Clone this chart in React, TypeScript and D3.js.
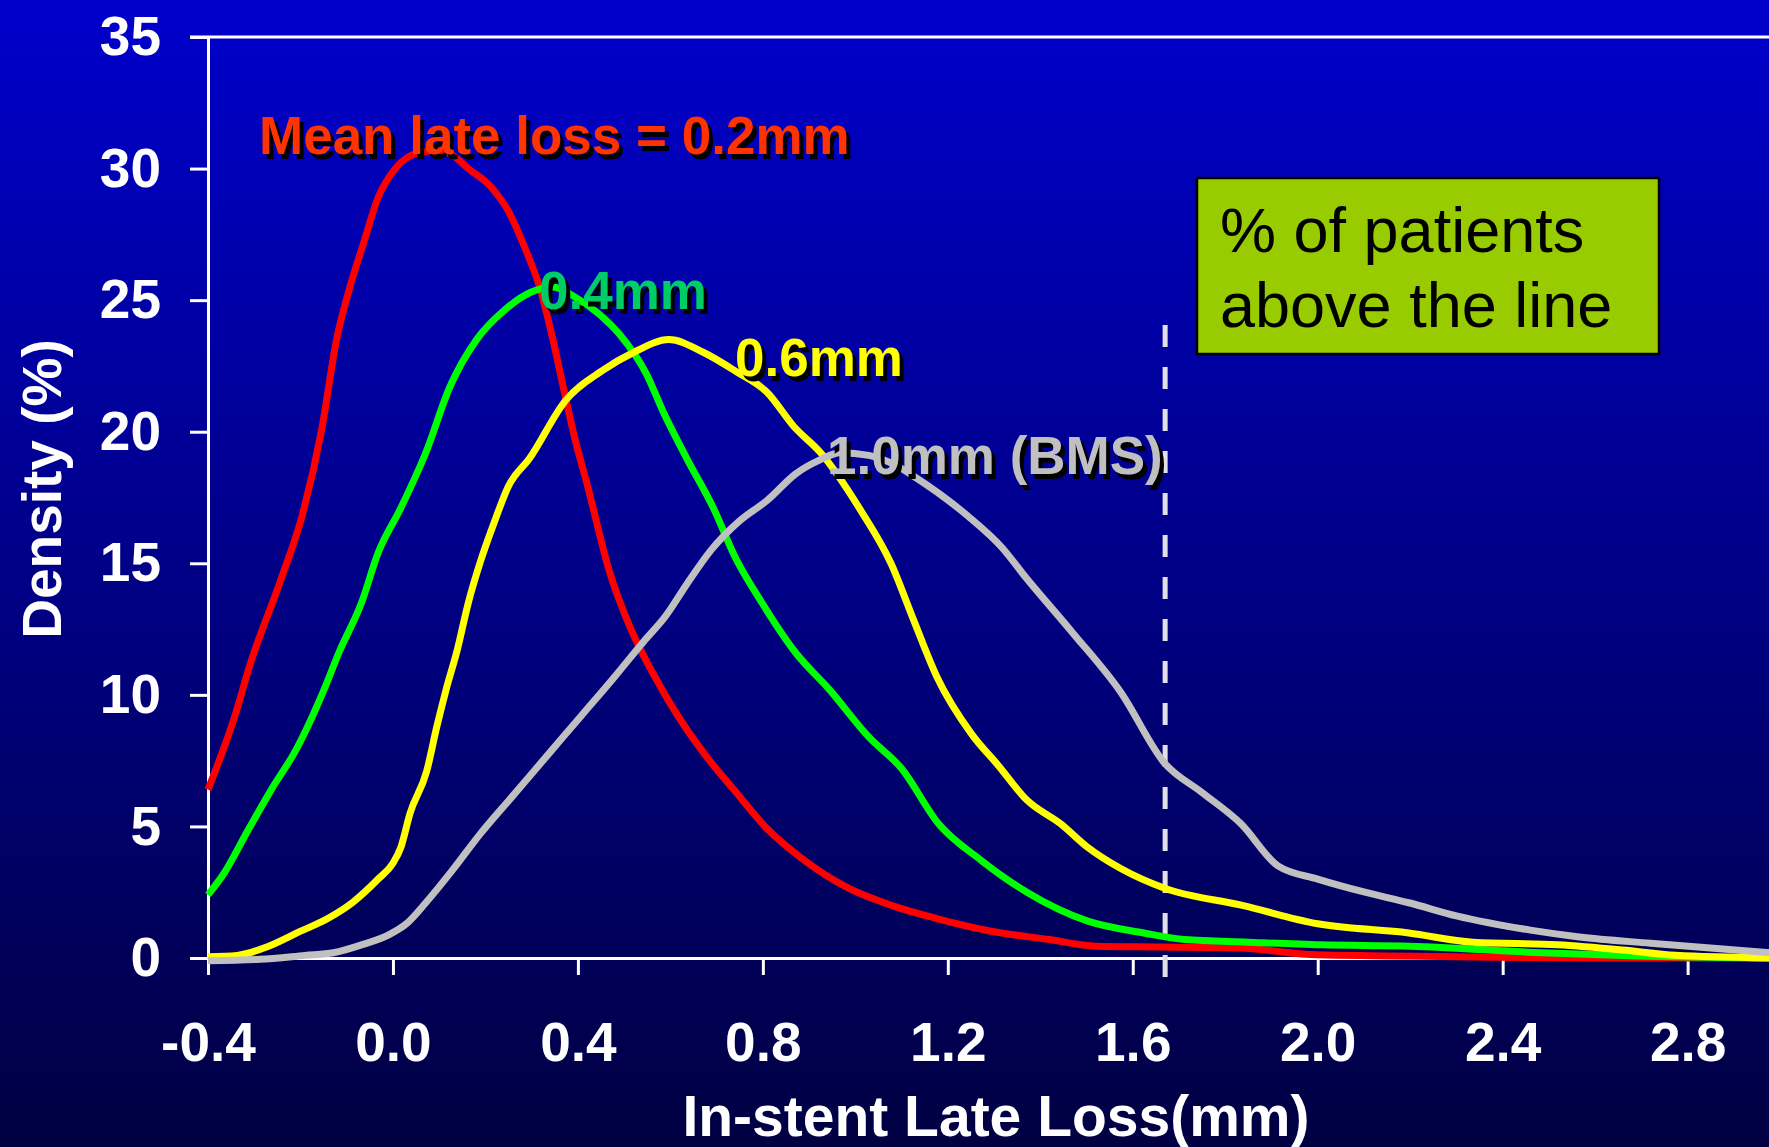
import { useRef, useEffect } from 'react'
import * as d3 from 'd3'

const W = 1769
const H = 1147
const M = { top: 37, right: 0, bottom: 189, left: 208 }

const X_TICKS = [-0.4, 0, 0.4, 0.8, 1.2, 1.6, 2.0, 2.4, 2.8]
const Y_TICKS = [0, 5, 10, 15, 20, 25, 30, 35]
const CUTOFF = 1.67

// [late loss (mm), density (%)]
const red = [
  [-0.4, 6.4], [-0.34, 9.3], [-0.31, 11.1], [-0.244, 14.3], [-0.195, 16.9], [-0.154, 20.1],
  [-0.122, 23.5], [-0.093, 25.5], [-0.063, 27.2], [-0.032, 28.9], [0.005, 30.0], [0.054, 30.6],
  [0.1, 30.7], [0.13, 30.5], [0.163, 30.0], [0.212, 29.3], [0.249, 28.4], [0.285, 27.0],
  [0.317, 25.5], [0.346, 23.5], [0.367, 21.8], [0.394, 19.7], [0.42, 18.0], [0.468, 14.7],
  [0.517, 12.4], [0.566, 10.7], [0.602, 9.6], [0.676, 7.7], [0.737, 6.4], [0.81, 4.9],
  [0.883, 3.8], [0.98, 2.7], [1.078, 2.0], [1.176, 1.5], [1.3, 1.0], [1.42, 0.7], [1.52, 0.45],
  [1.66, 0.42], [1.83, 0.38], [2.0, 0.12], [2.3, 0.05], [2.6, 0], [2.98, 0],
]
const green = [
  [-0.4, 2.4], [-0.366, 3.2], [-0.312, 4.9], [-0.263, 6.4], [-0.21, 7.9], [-0.149, 10.2],
  [-0.117, 11.6], [-0.068, 13.5], [-0.032, 15.4], [0.017, 17.1], [0.071, 19.2], [0.123, 21.7],
  [0.181, 23.5], [0.24, 24.6], [0.298, 25.3], [0.346, 25.5], [0.395, 25.1], [0.444, 24.5],
  [0.49, 23.7], [0.548, 22.2], [0.586, 20.7], [0.635, 19.0], [0.693, 17.1], [0.741, 15.2],
  [0.798, 13.5], [0.871, 11.6], [0.944, 10.2], [1.029, 8.4], [1.1, 7.2], [1.18, 5.1],
  [1.273, 3.7], [1.371, 2.5], [1.503, 1.4], [1.624, 0.95], [1.712, 0.7], [1.85, 0.6],
  [2.007, 0.5], [2.2, 0.45], [2.486, 0.2], [2.69, 0.08], [2.98, 0],
]
const yellow = [
  [-0.4, 0.05], [-0.337, 0.1], [-0.276, 0.4], [-0.202, 1.0], [-0.141, 1.5], [-0.088, 2.1],
  [-0.032, 3.0], [0.0, 3.6], [0.017, 4.2], [0.037, 5.5], [0.073, 7.1], [0.095, 8.8],
  [0.115, 10.2], [0.139, 11.7], [0.163, 13.5], [0.188, 15.0], [0.22, 16.6], [0.249, 17.9],
  [0.296, 19.0], [0.374, 21.2], [0.451, 22.3], [0.519, 23.0], [0.597, 23.5], [0.673, 23.0],
  [0.741, 22.3], [0.809, 21.5], [0.867, 20.2], [0.925, 19.2], [1.012, 17.0], [1.077, 15.0],
  [1.127, 12.8], [1.176, 10.7], [1.252, 8.5], [1.31, 7.3], [1.371, 6.0], [1.444, 5.1],
  [1.503, 4.2], [1.574, 3.4], [1.669, 2.65], [1.837, 2.0], [2.0, 1.3], [2.197, 0.95],
  [2.336, 0.6], [2.519, 0.5], [2.66, 0.3], [2.774, 0.1], [2.98, 0],
]
const gray = [
  [-0.4, -0.1], [-0.288, -0.05], [-0.19, 0.1], [-0.129, 0.2], [-0.068, 0.5], [-0.007, 0.9],
  [0.029, 1.3], [0.071, 2.1], [0.127, 3.3], [0.188, 4.7], [0.261, 6.2], [0.334, 7.7],
  [0.407, 9.2], [0.48, 10.7], [0.541, 12.0], [0.59, 13.0], [0.639, 14.3], [0.688, 15.5],
  [0.749, 16.6], [0.81, 17.4], [0.871, 18.4], [0.92, 18.9], [0.968, 19.2], [1.029, 19.1],
  [1.09, 18.7], [1.127, 18.3], [1.243, 16.8], [1.317, 15.6], [1.367, 14.5], [1.468, 12.4],
  [1.574, 10.1], [1.669, 7.4], [1.749, 6.3], [1.834, 5.1], [1.914, 3.5], [2.0, 3.0],
  [2.102, 2.5], [2.197, 2.1], [2.3, 1.6], [2.46, 1.06], [2.566, 0.8], [2.72, 0.56], [2.98, 0.2],
]

const SERIES = [
  { name: 'red', data: red, color: '#ff0000' },
  { name: 'green', data: green, color: '#00ff00' },
  { name: 'yellow', data: yellow, color: '#ffff00' },
  { name: 'gray', data: gray, color: '#c0c0c0' },
]

const LABELS = [
  { text: 'Mean late loss = 0.2mm', x: 259, y: 154, color: '#ff3300' },
  { text: '0.4mm', x: 539, y: 309, color: '#00cc66' },
  { text: '0.6mm', x: 735, y: 376, color: '#ffff00' },
  { text: '1.0mm (BMS)', x: 827, y: 474, color: '#c0c0c0' },
]

const FONT = '"Liberation Sans", Arial, sans-serif'

export default function App() {
  const svgRef = useRef(null)

  useEffect(() => {
    const svg = d3.select(svgRef.current)
    svg.selectAll('*').remove()

    const x = d3.scaleLinear().domain([-0.4, 2.976]).range([M.left, W - M.right])
    const y = d3.scaleLinear().domain([0, 35]).range([H - M.bottom, M.top])

    const defs = svg.append('defs')
    const grad = defs.append('linearGradient').attr('id', 'bg').attr('x1', 0).attr('y1', 0).attr('x2', 0).attr('y2', 1)
    grad.append('stop').attr('offset', '0%').attr('stop-color', '#0000cc')
    grad.append('stop').attr('offset', '100%').attr('stop-color', '#000042')
    svg.append('rect').attr('width', W).attr('height', H).attr('fill', 'url(#bg)')

    // top border line
    svg.append('line')
      .attr('x1', M.left - 18).attr('x2', W).attr('y1', y(35)).attr('y2', y(35))
      .attr('stroke', '#fff').attr('stroke-width', 3)

    svg.append('g')
      .attr('transform', `translate(${M.left},0)`)
      .call(d3.axisLeft(y).tickValues(Y_TICKS).tickSize(18).tickSizeOuter(0).tickPadding(29))
      .call(g => g.select('.domain').attr('stroke', '#fff').attr('stroke-width', 3))
      .call(g => g.selectAll('.tick line').attr('stroke', '#fff').attr('stroke-width', 3))
      .call(g => g.selectAll('text').attr('fill', '#fff').attr('font-size', 55)
        .attr('font-weight', 'bold').attr('font-family', FONT))

    svg.append('g')
      .attr('transform', `translate(0,${y(0)})`)
      .call(d3.axisBottom(x).tickValues(X_TICKS).tickFormat(d => d.toFixed(1))
        .tickSize(17).tickSizeOuter(0).tickPadding(47))
      .call(g => g.select('.domain').attr('stroke', '#fff').attr('stroke-width', 3))
      .call(g => g.selectAll('.tick line').attr('stroke', '#fff').attr('stroke-width', 3))
      .call(g => g.selectAll('text').attr('fill', '#fff').attr('font-size', 55)
        .attr('font-weight', 'bold').attr('font-family', FONT))

    // cut-off line
    svg.append('line')
      .attr('x1', x(CUTOFF)).attr('x2', x(CUTOFF)).attr('y1', 325).attr('y2', y(0) + 20)
      .attr('stroke', '#e0e0e8').attr('stroke-width', 5).attr('stroke-dasharray', '22,20')

    const line = d3.line().x(d => x(d[0])).y(d => y(d[1])).curve(d3.curveMonotoneX)
    SERIES.forEach(s => {
      svg.append('path').datum(s.data).attr('d', line)
        .attr('fill', 'none').attr('stroke', s.color).attr('stroke-width', 7)
        .attr('stroke-linejoin', 'round')
    })

    // curve labels with drop shadow
    LABELS.forEach(l => {
      svg.append('text').attr('x', l.x + 4).attr('y', l.y + 5).text(l.text)
        .attr('fill', '#000').attr('font-size', 53).attr('font-weight', 'bold').attr('font-family', FONT)
      svg.append('text').attr('x', l.x).attr('y', l.y).text(l.text)
        .attr('fill', l.color).attr('font-size', 53).attr('font-weight', 'bold').attr('font-family', FONT)
    })

    // note box
    svg.append('rect').attr('x', 1197).attr('y', 178).attr('width', 462).attr('height', 176)
      .attr('fill', '#99cc00').attr('stroke', '#000').attr('stroke-width', 2.5)
    const note = svg.append('text').attr('font-size', 63).attr('font-family', FONT).attr('fill', '#000')
    note.append('tspan').attr('x', 1220).attr('y', 252).text('% of patients')
    note.append('tspan').attr('x', 1220).attr('y', 327).text('above the line')

    // axis titles
    svg.append('text').attr('x', 996).attr('y', 1136).attr('text-anchor', 'middle')
      .text('In-stent Late Loss(mm)')
      .attr('fill', '#fff').attr('font-size', 57).attr('font-weight', 'bold').attr('font-family', FONT)
    svg.append('text').attr('transform', 'translate(61,489) rotate(-90)').attr('text-anchor', 'middle')
      .text('Density (%)')
      .attr('fill', '#fff').attr('font-size', 55).attr('font-weight', 'bold').attr('font-family', FONT)
  }, [])

  return (
    <div style={{ position: 'absolute', left: 0, top: 0 }}>
      <svg ref={svgRef} width={W} height={H} style={{ display: 'block' }} />
    </div>
  )
}
